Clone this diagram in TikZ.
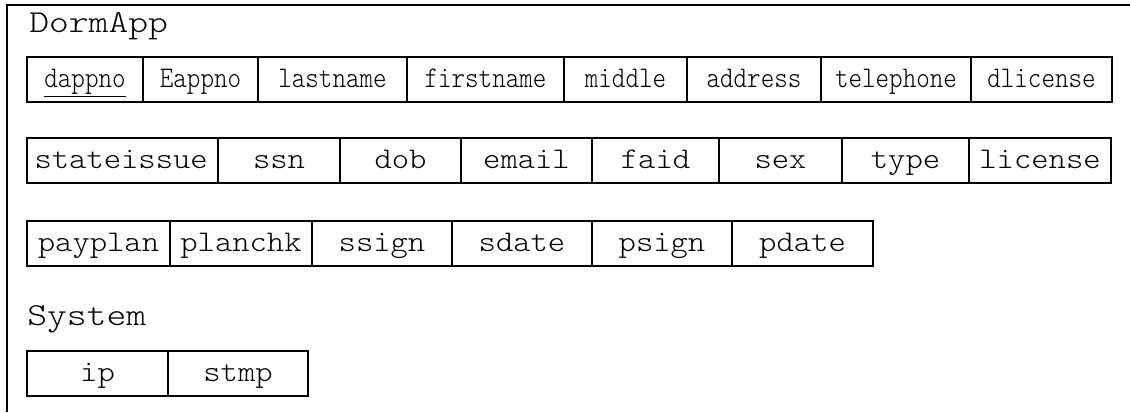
\documentclass[tikz,border=0pt]{standalone}
\usepackage{graphicx}
\tikzset{
  px/.style={x=0.75pt,y=-0.75pt},
  cell/.style={draw, line width=0.9pt, inner sep=0pt, outer sep=0pt,
    minimum height=33.75pt, text height=15pt, text depth=3.75pt,
    font=\fontsize{22.5}{24}\selectfont\ttfamily\fontseries{l}\selectfont},
  frameline/.style={line width=1.5pt},
  heading/.style={anchor=base west, inner sep=0pt,
    font=\fontsize{24}{26}\selectfont\ttfamily\fontseries{l}\selectfont},
}
\newcommand\wide[1]{\scalebox{1.1}[1]{#1}}
\newcommand\narrow[1]{\scalebox{0.86}[1]{#1}}
\newcommand\headw[1]{\scalebox{1.18}[1]{#1}}
% name, left, right, centre y, text
\newcommand\cellnode[5]{\node[cell, minimum width={(#3-#2)*0.75pt}] (#1) at ({(#2+#3)/2},#4) {#5};}
\begin{document}
\begin{tikzpicture}[px]
\useasboundingbox (0,0) rectangle (1130,412);
\coordinate (fbl) at (7,412);
\coordinate (ftl) at (7,5);
\coordinate (ftr) at (1130,5);
\draw[frameline] (fbl) -- (ftl) -- (ftr);

\node[heading] (dormapp) at (29,32) {\headw{DormApp}};

% row 1
\cellnode{dappno}{27}{143}{79.5}{\narrow{\underline{dappno}}}
\cellnode{eappno}{143}{258}{79.5}{\narrow{Eappno}}
\cellnode{lastname}{258}{407}{79.5}{\narrow{lastname}}
\cellnode{firstname}{407}{564}{79.5}{\narrow{firstname}}
\cellnode{middle}{564}{687}{79.5}{\narrow{middle}}
\cellnode{address}{687}{821}{79.5}{\narrow{address}}
\cellnode{telephone}{821}{971}{79.5}{\narrow{telephone}}
\cellnode{dlicense}{971}{1112}{79.5}{\narrow{dlicense}}

% row 2
\cellnode{stateissue}{27}{218}{160.5}{\hspace*{-2pt}\wide{stateissue}}
\cellnode{ssn}{218}{340}{160.5}{\wide{ssn}}
\cellnode{dob}{340}{461}{160.5}{\wide{dob}}
\cellnode{email}{461}{592}{160.5}{\wide{email}}
\cellnode{faid}{592}{719}{160.5}{\wide{faid}}
\cellnode{sex}{719}{842}{160.5}{\wide{sex}}
\cellnode{type}{842}{969}{160.5}{\wide{type}}
\cellnode{license}{969}{1111}{160.5}{\wide{license}}

% row 3
\cellnode{payplan}{27}{170}{243.5}{\wide{payplan}}
\cellnode{planchk}{170}{312}{243.5}{\wide{planchk}}
\cellnode{ssign}{312}{452}{243.5}{\wide{ssign}}
\cellnode{sdate}{452}{592}{243.5}{\wide{sdate}}
\cellnode{psign}{592}{732}{243.5}{\wide{psign}}
\cellnode{pdate}{732}{873}{243.5}{\wide{pdate}}

\node[heading] (system) at (27,325) {\headw{System}};

% row 4
\cellnode{ip}{27}{168}{373.5}{\wide{ip}}
\cellnode{stmp}{168}{308}{373.5}{\wide{stmp}}
\end{tikzpicture}
\end{document}
